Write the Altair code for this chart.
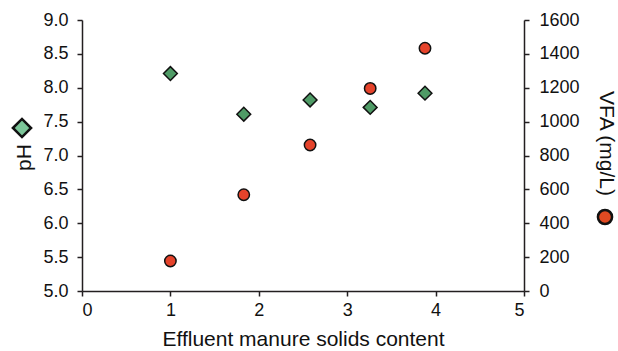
import altair as alt
import pandas as pd

solids = [1.0, 1.83, 2.58, 3.26, 3.88]
ph = [8.21, 7.61, 7.82, 7.71, 7.92]
vfa = [177, 568, 862, 1196, 1433]

df = pd.DataFrame({"solids": solids, "ph": ph, "vfa": vfa})

FONT = "Liberation Sans"

xenc = alt.X("solids:Q", scale=alt.Scale(domain=[0, 5], nice=False),
             axis=alt.Axis(values=[0, 1, 2, 3, 4, 5], format="d",
                           title="Effluent manure solids content",
                           titleFontSize=21, titlePadding=9, labelPadding=5))

ph_layer = alt.Chart(df).mark_point(
    shape="diamond", filled=True, fill="#4f9b66", stroke="#111111",
    strokeWidth=1.5, size=190, opacity=1
).encode(
    x=xenc,
    y=alt.Y("ph:Q", scale=alt.Scale(domain=[5, 9], nice=False, zero=False),
            axis=alt.Axis(values=[5, 5.5, 6, 6.5, 7, 7.5, 8, 8.5, 9], format=".1f",
                          labelPadding=9,
                          title="pH", titleFontSize=21, titleAngle=270,
                          titleX=-48, titleY=137, titleBaseline="bottom"))
)

vfa_layer = alt.Chart(df).mark_point(
    shape="circle", filled=True, fill="#e5432b", stroke="#111111",
    strokeWidth=1.5, size=130, opacity=1
).encode(
    x=alt.X("solids:Q"),
    y=alt.Y("vfa:Q", scale=alt.Scale(domain=[0, 1600], nice=False),
            axis=alt.Axis(orient="right", values=list(range(0, 1601, 200)),
                          format="d", labelPadding=10,
                          title="VFA (mg/L)", titleFontSize=21,
                          titleAngle=90, titleX=71, titleY=123,
                          titleBaseline="bottom"))
)

ph_glyph = alt.Chart(df.head(1)).mark_point(
    shape="diamond", filled=True, fill="#7cc699", stroke="#111111",
    strokeWidth=2.5, size=330, opacity=1
).encode(x=alt.value(-60), y=alt.value(108))

vfa_glyph = alt.Chart(df.head(1)).mark_point(
    shape="circle", filled=True, fill="#e04a22", stroke="#111111",
    strokeWidth=2.5, size=200, opacity=1
).encode(x=alt.value(523), y=alt.value(197))

chart = alt.layer(ph_layer, vfa_layer, ph_glyph, vfa_glyph).resolve_scale(
    y="independent"
).properties(
    width=442, height=271,
    background="white",
    autosize=alt.AutoSizeParams(type="none"),
    padding={"left": 82, "top": 20, "right": 94, "bottom": 60},
).configure_view(stroke=None).configure_axis(
    grid=False, domainColor="#231f20", domainWidth=1.5, tickColor="#231f20",
    tickWidth=1.5, tickSize=5, labelFont=FONT, titleFont=FONT,
    labelFontSize=18, labelColor="#111111", titleColor="#111111",
    titleFontWeight="normal"
)

chart.save("out.html", embed_options={"renderer": "svg", "actions": False})
